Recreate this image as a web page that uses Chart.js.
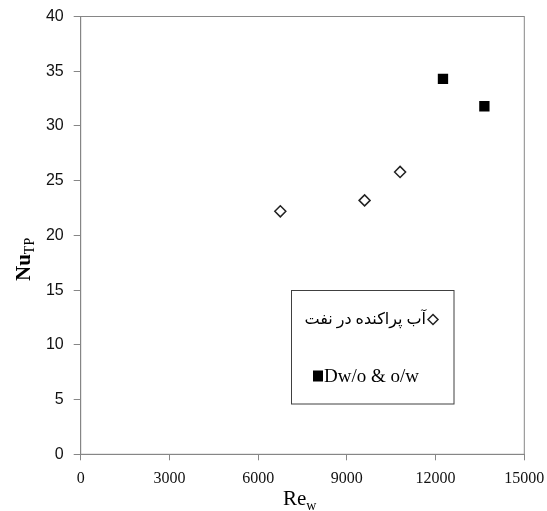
<!DOCTYPE html>
<html>
<head>
<meta charset="utf-8">
<script src="https://cdn.jsdelivr.net/npm/chart.js@4.4.1/dist/chart.umd.min.js"></script>
<style>
    html, body { margin: 0; padding: 0; background: #fff; }
    #wrap { width: 547px; height: 511px; position: relative; }
</style>
</head>
<body>
<div id="wrap"><canvas id="nuChart"></canvas></div>
<script>
// values
const waterInOilLabel = 'آب پراکنده در نفت';
const waterInOilRe = [6750, 9600, 10800];
const waterInOilNu = [22.2, 23.2, 25.8];

const mixedLabel = 'Dw/o & o/w';
const mixedRe = [12250, 13650];
const mixedNu = [34.3, 31.8];

const xTicks = [0, 3000, 6000, 9000, 12000, 15000];
const yTicks = [0, 5, 10, 15, 20, 25, 30, 35, 40];

const axisGray = '#868686';

// frame + axis titles with subscripts + boxed legend
const decorations = {
    id: 'decorations',
    afterDraw(chart) {
        const ctx = chart.ctx;
        const a = chart.chartArea;
        ctx.save();

        ctx.strokeStyle = axisGray;
        ctx.lineWidth = 1;
        ctx.strokeRect(a.left, a.top, a.right - a.left, a.bottom - a.top);

        // x title: Re_w
        ctx.fillStyle = '#000';
        ctx.textBaseline = 'alphabetic';
        ctx.textAlign = 'left';
        ctx.font = '21px "Liberation Serif"';
        ctx.fillText('Re', 283, 505);
        const reW = ctx.measureText('Re').width;
        ctx.font = '14px "Liberation Serif"';
        ctx.fillText('w', 283 + reW, 510);

        // y title: Nu_TP (rotated)
        ctx.translate(30, 281);
        ctx.rotate(-Math.PI / 2);
        ctx.font = 'bold 21px "Liberation Serif"';
        ctx.fillText('Nu', 0, 0);
        const nuW = ctx.measureText('Nu').width;
        ctx.font = '14px "Liberation Serif"';
        ctx.fillText('TP', nuW, 4);
        ctx.setTransform(1, 0, 0, 1, 0, 0);
        ctx.scale(chart.currentDevicePixelRatio, chart.currentDevicePixelRatio);

        // legend box
        ctx.strokeStyle = '#404040';
        ctx.strokeRect(291.5, 290.5, 162.5, 113.5);

        const ds = chart.data.datasets;
        ctx.fillStyle = '#000';
        ctx.textBaseline = 'middle';

        // row 1: persian text, diamond on right
        ctx.font = '16px "Liberation Serif", "DejaVu Sans"';
        ctx.textAlign = 'right';
        ctx.direction = 'rtl';
        ctx.fillText(ds[0].label, 426, 320);
        ctx.direction = 'ltr';
        ctx.beginPath();
        ctx.moveTo(433, 314.5);
        ctx.lineTo(438, 319.5);
        ctx.lineTo(433, 324.5);
        ctx.lineTo(428, 319.5);
        ctx.closePath();
        ctx.fillStyle = '#fff';
        ctx.fill();
        ctx.strokeStyle = '#222';
        ctx.lineWidth = 1.5;
        ctx.stroke();

        // row 2: black square then text
        ctx.fillStyle = '#000';
        ctx.fillRect(313, 370.5, 10, 11);
        ctx.font = '19px "Liberation Serif"';
        ctx.textAlign = 'left';
        ctx.textBaseline = 'alphabetic';
        ctx.fillText(ds[1].label, 324, 382);

        ctx.restore();
    }
};

new Chart(document.getElementById('nuChart'), {
    type: 'scatter',
    data: {
        datasets: [{
            label: waterInOilLabel,
            data: waterInOilRe.map((x, i) => ({x: x, y: waterInOilNu[i]})),
            pointStyle: 'rectRot',
            pointRadius: 5.5,
            pointBackgroundColor: '#fff',
            pointBorderColor: '#222',
            pointBorderWidth: 1.5,
        }, {
            label: mixedLabel,
            data: mixedRe.map((x, i) => ({x: x, y: mixedNu[i]})),
            pointStyle: 'rect',
            pointRadius: 7.3,
            pointBackgroundColor: '#000',
            pointBorderColor: '#000',
            pointBorderWidth: 0,
        }]
    },
    options: {
        responsive: true,
        maintainAspectRatio: false,
        animation: false,
        layout: {
            padding: {top: 16.5, right: 22.7, left: 0, bottom: 0}
        },
        scales: {
            x: {
                type: 'linear',
                min: 0,
                max: 15000,
                afterBuildTicks: scale => { scale.ticks = xTicks.map(v => ({value: v})); },
                afterFit: scale => {
                    scale.height = 56.7;
                    scale.paddingLeft = 0;
                    scale.paddingRight = 0;
                },
                border: {color: axisGray, width: 1},
                grid: {
                    drawOnChartArea: false,
                    drawTicks: true,
                    tickLength: 6,
                    color: axisGray,
                },
                ticks: {
                    color: '#111',
                    padding: 9,
                    maxRotation: 0,
                    callback: v => String(v),
                    font: {family: '"Liberation Serif"', size: 16},
                },
            },
            y: {
                min: 0,
                max: 40,
                afterBuildTicks: scale => { scale.ticks = yTicks.map(v => ({value: v})); },
                afterFit: scale => {
                    scale.width = 80.7;
                    scale.paddingTop = 0;
                    scale.paddingBottom = 0;
                },
                border: {color: axisGray, width: 1},
                grid: {
                    drawOnChartArea: false,
                    drawTicks: true,
                    tickLength: 7,
                    color: axisGray,
                },
                ticks: {
                    color: '#111',
                    padding: 10,
                    callback: v => String(v),
                    font: {family: '"Liberation Sans"', size: 16},
                },
            }
        },
        plugins: {
            legend: {display: false},
            tooltip: {enabled: false},
        },
    },
    plugins: [decorations]
});
</script>
</body>
</html>
